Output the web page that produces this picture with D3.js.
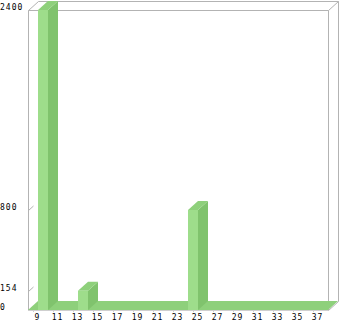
<!DOCTYPE html>
<html>
<head>
<meta charset="utf-8">
<script src="https://cdn.jsdelivr.net/npm/d3@7/dist/d3.min.js"></script>
<style>
  html, body { margin: 0; padding: 0; background: #fff; }
  svg { display: block; }
  text { font-family: "DejaVu Sans Mono", monospace; font-size: 8px; fill: #000; letter-spacing: 1px; }
</style>
</head>
<body>
<svg id="chart" width="340" height="321"></svg>
<script>
// Categories along the x axis (every category gets a slot, every 2nd is labelled)
const categories = d3.range(9, 38);
// Bar values by category (categories not listed are 0)
const barCategories = [9, 13, 24];
const barValues = [2400, 154, 800];
// Custom y-axis labels
const yTicks = [0, 154, 800, 2400];
const xTickLabels = categories.filter(c => c % 2 === 1);

const W = 340, H = 321;
const plot = { left: 28, right: 328, top: 10, bottom: 310 };
const depthX = 10, depthY = 9;

const svg = d3.select("#chart");

const x = d3.scaleBand()
  .domain(categories)
  .range([32.5, 322.5])
  .padding(0);

const y = d3.scaleLinear()
  .domain([0, 2400])
  .range([plot.bottom, plot.top]);

const frameColor = "#b3b3b3";
const colors = { front: "#9edd8b", side: "#80c36d", top: "#8ed07b" };

// 3D frame: back box edges + front box edges
const frame = svg.append("g")
  .attr("fill", "none")
  .attr("stroke", frameColor)
  .attr("stroke-width", 1);

const L = plot.left + 0.5, R = plot.right + 0.5, T = plot.top + 0.5, B = plot.bottom + 0.5;
frame.append("path").attr("d",
  `M${L},${B}V${T}H${R}V${B}` +                        // front frame
  `M${L},${T}L${L + depthX},${T - depthY}H${R + depthX}` + // top back edge
  `V${B - depthY}L${R},${B}` +                          // back right edge
  `M${R},${T}L${R + depthX},${T - depthY}`);

// diagonal ticks on the left wall for the labelled values
frame.selectAll("line.ytick")
  .data(yTicks.filter(v => v > 0 && v < 2400))
  .join("line")
  .attr("class", "ytick")
  .attr("x1", L).attr("y1", d => Math.round(y(d)) + 0.5)
  .attr("x2", L + depthX / 2).attr("y2", d => Math.round(y(d)) + 0.5 - depthY / 2);

// 3D x-axis floor
const fl = plot.left, fr = plot.right, fb = plot.bottom;
svg.append("path")
  .attr("fill", colors.top)
  .attr("d", `M${fl},${fb}L${fr},${fb}L${fr + depthX},${fb - depthY}L${fl + depthX},${fb - depthY}Z`);

// baseline and category ticks under the floor
svg.append("line")
  .attr("x1", fl).attr("x2", fr)
  .attr("y1", fb + 0.5).attr("y2", fb + 0.5)
  .attr("stroke", "#cfcfcf");
svg.selectAll("line.xtick")
  .data(xTickLabels)
  .join("line")
  .attr("class", "xtick")
  .attr("x1", d => Math.round(x(d)) + 0.5).attr("x2", d => Math.round(x(d)) + 0.5)
  .attr("y1", fb).attr("y2", fb + 2)
  .attr("stroke", "#cfcfcf");

// 3D bars
const bars = barCategories.map((c, i) => ({ c, v: barValues[i] }));
const bw = x.bandwidth();
const barG = svg.append("g");
bars.forEach(d => {
  const x0 = x(d.c) + bw / 2 + 0.5;
  const x1 = x0 + bw;
  const yt = y(d.v);
  const yb = y(0);
  const g = barG.append("g");
  // side face
  g.append("path").attr("fill", colors.side)
    .attr("d", `M${x1},${yt}L${x1 + depthX},${yt - depthY}L${x1 + depthX},${yb - depthY}L${x1},${yb}Z`);
  // top face
  g.append("path").attr("fill", colors.top)
    .attr("d", `M${x0},${yt}L${x1},${yt}L${x1 + depthX},${yt - depthY}L${x0 + depthX},${yt - depthY}Z`);
  // front face
  g.append("rect").attr("fill", colors.front)
    .attr("x", x0).attr("y", yt).attr("width", bw).attr("height", yb - yt);
});

// y labels (left aligned at the canvas edge)
svg.selectAll("text.ylab")
  .data(yTicks)
  .join("text")
  .attr("class", "ylab")
  .attr("x", 0)
  .attr("y", d => y(d))
  .text(d => d);

// x labels
svg.selectAll("text.xlab")
  .data(xTickLabels)
  .join("text")
  .attr("class", "xlab")
  .attr("text-anchor", "middle")
  .attr("x", d => x(d) + bw / 2)
  .attr("y", 320)
  .text(d => d);
</script>
</body>
</html>
